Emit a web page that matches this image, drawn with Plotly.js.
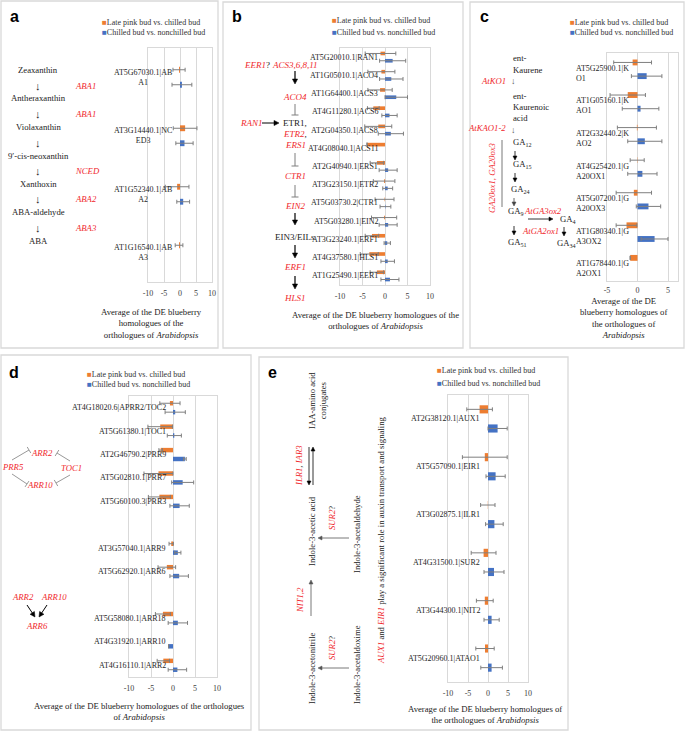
<!DOCTYPE html>
<html><head><meta charset="utf-8">
<script src="https://cdn.plot.ly/plotly-3.0.1.min.js"></script>
<style>html,body{margin:0;padding:0;background:#fff}</style>
</head><body><div id="chart" style="width:685px;height:732px"></div>
<script>
// ---------------- DATA ----------------
const seriesNames = ['Late pink bud vs. chilled bud', 'Chilled bud vs. nonchilled bud'];
const tickVals = [-10, -5, 0, 5, 10];
const tickText = ['-10', '-5', '0', '5', '10'];
const tickValsC = [-5, 0, 5];
const tickTextC = ['-5', '0', '5'];

// panel a
const aGenes = ['AT5G67030.1|AB<br>A1', 'AT3G14440.1|NC<br>ED3', 'AT1G52340.1|AB<br>A2', 'AT1G16540.1|AB<br>A3'];
const aLate = [-0.3, 1.6, -0.9, -0.3];
const aLateErr = [1.9, 3.7, 3.7, 1.2];
const aChill = [0.6, 1.4, 1.0, null];
const aChillErr = [3.1, 2.7, 2.0, null];

// panel b
const bGenes = ['AT5G20010.1|RAN1', 'AT1G05010.1|ACO4', 'AT1G64400.1|ACS3', 'AT4G11280.1|ACS6', 'AT2G04350.1|ACS8', 'AT4G08040.1|ACS11', 'AT2G40940.1|ERS1', 'AT3G23150.1|ETR2', 'AT5G03730.2|CTR1', 'AT5G03280.1|EIN2', 'AT3G23240.1|ERF1', 'AT4G37580.1|HLS1', 'AT1G25490.1|EER1'];
const bLate = [-1.0, -0.8, -1.1, -2.6, -1.5, -4.0, -1.8, -0.2, -0.1, -0.2, -2.9, -3.5, -1.8];
const bLateErr = [3.4, 3.0, 2.7, 1.3, 3.0, 0, 1.5, 2.4, 2.1, 2.8, 1.5, 2.0, 1.5];
const bChill = [1.7, 1.4, 2.5, 1.0, 1.3, null, 0.7, 0.6, 0.1, 0.7, 0.5, 0.6, 1.1];
const bChillErr = [2.9, 2.6, 2.5, 1.7, 2.8, null, 2.0, 1.1, 1.2, 2.0, 0.7, 1.5, 2.0];

// panel c
const cGenes = ['AT5G25900.1|K<br>O1', 'AT1G05160.1|K<br>AO1', 'AT2G32440.2|K<br>AO2', 'AT4G25420.1|G<br>A20OX1', 'AT5G07200.1|G<br>A20OX3', 'AT1G80340.1|G<br>A3OX2', 'AT1G78440.1|G<br>A2OX1'];
const cLate = [-0.8, -1.6, -0.1, -0.05, -0.6, -1.8, -1.2];
const cLateErr = [3.1, 2.9, 3.2, 1.15, 2.9, 1.7, 0];
const cChill = [1.5, 0.5, 1.2, 0.8, 1.8, 2.8, null];
const cChillErr = [2.5, 3.0, 2.8, 2.4, 2.0, 2.2, null];

// panel d (empty strings are empty rows)
const dGenes = ['AT4G18020.6|APRR2/TOC2', 'AT5G61380.1|TOC1', 'AT2G46790.2|PRR9', 'AT5G02810.1|PRR7', 'AT5G60100.3|PRR3', '', 'AT3G57040.1|ARR9', 'AT5G62920.1|ARR6', '', 'AT5G58080.1|ARR18', 'AT4G31920.1|ARR10', 'AT4G16110.1|ARR2'];
const dLate = [-0.7, -2.9, -2.8, -3.3, -3.1, null, -0.4, -1.4, null, -2.3, null, -2.2];
const dLateErr = [2.3, 2.8, 0.4, 3.3, 2.5, null, 0.5, 2.0, null, 1.7, null, 1.4];
const dChill = [0.5, 0.3, 2.7, 2.2, 1.5, null, 1.1, 1.4, null, 1.1, -1.0, 1.0];
const dChillErr = [2.3, 1.6, 0.3, 2.5, 2.2, null, 0.7, 2.1, null, 2.2, 0, 2.1];

// panel e
const eGenes = ['AT2G38120.1|AUX1', 'AT5G57090.1|EIR1', 'AT3G02875.1|ILR1', 'AT4G31500.1|SUR2', 'AT3G44300.1|NIT2', 'AT5G20960.1|ATAO1'];
const eLate = [-2.1, -0.8, -0.05, -1.1, -0.8, -0.75];
const eLateErr = [3.2, 5.6, 1.8, 3.1, 2.1, 2.3];
const eChill = [2.4, 1.9, 1.6, 1.5, 0.9, 0.9];
const eChillErr = [2.4, 2.4, 2.2, 2.5, 1.9, 2.7];

// ---------------- HELPERS ----------------
const W = 685, H = 732;
const SERIF = '"Liberation Serif", "Times New Roman", serif';
const SANS = '"Liberation Sans", Arial, sans-serif';
const ORANGE = '#ED7D31', BLUE = '#4472C4', RED = '#f0282d', GRID = '#d9d9d9';
const X = p => p / W;
const Y = p => 1 - p / H;
const sfx = s => (s === 1 ? '' : String(s));
const red = t => '<span style="color:' + RED + '"><i>' + t + '</i></span>';

const traces = [];
function addBars(s, vals, errs, color, center, width) {
  traces.push({
    type: 'bar', orientation: 'h', x: vals, y: vals.map((_, i) => i),
    xaxis: 'x' + sfx(s), yaxis: 'y' + sfx(s), width: width, offset: center - width / 2,
    marker: {color: color, line: {width: 0}},
    error_x: {type: 'data', array: errs, visible: true, color: '#7f7f7f', thickness: 1, width: 2},
    showlegend: false, hoverinfo: 'skip'
  });
}
function addPanel(s, late, lateErr, chill, chillErr, sep, width) {
  addBars(s, late, lateErr, ORANGE, -sep, width);
  addBars(s, chill, chillErr, BLUE, sep, width);
}
addPanel(1, aLate, aLateErr, aChill, aChillErr, 0.128, 0.1);
addPanel(2, bLate, bLateErr, bChill, bChillErr, 0.2, 0.2);
addPanel(3, cLate, cLateErr, cChill, cChillErr, 0.21, 0.18);
addPanel(4, dLate, dLateErr, dChill, dChillErr, 0.19, 0.19);
addPanel(5, eLate, eLateErr, eChill, eChillErr, 0.2, 0.17);

const layout = {
  width: W, height: H, margin: {l: 0, r: 0, t: 0, b: 0},
  paper_bgcolor: '#fff', plot_bgcolor: '#fff', showlegend: false, barmode: 'overlay',
  annotations: [], shapes: []
};
function axes(s, l, r, t, b, range, tv, tt, n, tl) {
  layout['xaxis' + sfx(s)] = {
    domain: [X(l), X(r)], range: range, tickvals: tv, ticktext: tt, anchor: 'y' + sfx(s),
    showgrid: true, gridcolor: GRID, gridwidth: 1, zeroline: true, zerolinecolor: GRID, zerolinewidth: 1,
    showline: true, mirror: true, linecolor: GRID, linewidth: 1,
    ticks: 'outside', ticklen: tl === undefined ? 3 : tl, tickcolor: 'rgba(0,0,0,0)',
    tickfont: {family: SERIF, size: 8, color: '#404040'}, fixedrange: true
  };
  layout['yaxis' + sfx(s)] = {
    domain: [Y(b), Y(t)], range: [n - 0.5, -0.5], anchor: 'x' + sfx(s),
    showticklabels: false, showgrid: false, zeroline: false, ticks: '',
    showline: true, mirror: true, linecolor: GRID, linewidth: 1, fixedrange: true
  };
}
axes(1, 148, 212, 48, 282, [-10, 10], tickVals, tickText, aGenes.length);
axes(2, 340, 430, 48, 285, [-10, 10], tickVals, tickText, bGenes.length);
axes(3, 607, 678, 53, 281, [-5, 6.64], tickValsC, tickTextC, cGenes.length, 1);
axes(4, 129, 217, 396, 677, [-10, 10], tickVals, tickText, dGenes.length);
axes(5, 448, 528, 395, 682, [-10, 10], tickVals, tickText, eGenes.length);

const A = layout.annotations, S = layout.shapes;
function geneLabels(s, genes, xshift, align, yshift) {
  genes.forEach((g, i) => {
    if (!g) return;
    A.push({xref: 'x' + sfx(s), yref: 'y' + sfx(s), x: 0, y: i, text: g, showarrow: false,
      xanchor: 'right', yanchor: 'middle', xshift: xshift, yshift: yshift || 0, align: align,
      font: {family: SERIF, size: 8, color: '#262626'}});
  });
}
geneLabels(1, aGenes, -6, 'center');
geneLabels(2, bGenes, -5, 'center');
geneLabels(3, cGenes, -7, 'left', -4);
geneLabels(4, dGenes, -5, 'center');
geneLabels(5, eGenes, -6, 'center');

function txt(x, y, text, o) {
  o = o || {};
  A.push({xref: 'paper', yref: 'paper', x: X(x), y: Y(y), text: text, showarrow: false,
    xanchor: o.xa || 'center', yanchor: 'middle', align: o.align || 'center',
    textangle: o.angle || 0,
    font: {family: o.family || SERIF, size: o.size || 8.7, color: o.color || '#222'}});
}
function line(x1, y1, x2, y2, color, w) {
  S.push({type: 'line', xref: 'paper', yref: 'paper', x0: X(x1), y0: Y(y1), x1: X(x2), y1: Y(y2),
    line: {color: color || '#7f7f7f', width: w || 1}});
}
// arrow drawn as a line plus a filled triangular head (shapes, paper coords)
function arrow(x1, y1, x2, y2, o) {
  o = o || {};
  const color = o.color || '#000', hl = o.hl || 5, hw = o.hw || 2.6;
  const dx = x2 - x1, dy = y2 - y1, L = Math.hypot(dx, dy), ux = dx / L, uy = dy / L;
  const bx = x2 - ux * hl, by = y2 - uy * hl;
  line(x1, y1, bx + ux, by + uy, color, o.w || 1);
  const p = [[x2, y2], [bx - uy * hw, by + ux * hw], [bx + uy * hw, by - ux * hw]];
  S.push({type: 'path', xref: 'paper', yref: 'paper',
    path: 'M' + p.map(q => X(q[0]) + ',' + Y(q[1])).join('L') + 'Z',
    fillcolor: color, line: {color: color, width: 0.5}});
}
function tbar(x1, y1, x2, y2, color) {
  line(x1, y1, x2, y2, color);
  const dx = x2 - x1, dy = y2 - y1, L = Math.hypot(dx, dy), k = 3.5 / L;
  line(x2 - dy * k, y2 + dx * k, x2 + dy * k, y2 - dx * k, color);
}
function legend(x, y1, y2) {
  txt(x, y1, '<span style="color:' + ORANGE + '">■</span>' + seriesNames[0], {xa: 'left', size: 8, color: '#333'});
  txt(x, y2, '<span style="color:' + BLUE + '">■</span>' + seriesNames[1], {xa: 'left', size: 8, color: '#333'});
}
function box(x0, y0, x1, y1) {
  S.push({type: 'rect', xref: 'paper', yref: 'paper', x0: X(x0), y0: Y(y0), x1: X(x1), y1: Y(y1),
    line: {color: GRID, width: 1.3}, fillcolor: 'rgba(0,0,0,0)', layer: 'below'});
}

// panel boxes
box(1, 1, 218, 348); box(223, 2, 463, 348); box(470, 2, 684, 348);
box(1, 355, 251, 730); box(259, 357, 568, 730);

// panel letters
[['a', 14, 16], ['b', 237, 17], ['c', 484, 17], ['d', 14, 373], ['e', 272, 373]].forEach(p =>
  txt(p[1], p[2], '<b>' + p[0] + '</b>', {family: SANS, size: 16, color: '#000'}));

// legends
legend(100, 22, 32.5); legend(330, 21, 32); legend(568, 23, 32); legend(85, 374, 384); legend(435, 370, 383);

// axis titles
txt(151, 323, 'Average of the DE blueberry<br>homologues of the<br>orthologues of <i>Arabidopsis</i>');
txt(375, 320.5, 'Average of the DE blueberry homologues of the<br>orthologues of <i>Arabidopsis</i>');
txt(623, 318, 'Average of the DE<br>blueberry homologues of<br>the orthologues of<br><i>Arabidopsis</i>');
txt(139, 711, 'Average of the DE blueberry homologues of the orthologues<br>of <i>Arabidopsis</i>');
txt(485, 714, 'Average of the DE blueberry homologues of<br>the orthologues of <i>Arabidopsis</i>');

// ---- panel a pathway ----
[['Zeaxanthin', 70], ['Antheraxanthin', 98], ['Violaxanthin', 127], ['9′-cis-neoxanthin', 156],
 ['Xanthoxin', 184], ['ABA-aldehyde', 212], ['ABA', 241]].forEach(p => txt(38, p[1], p[0]));
[86, 114, 143, 171, 199, 228].forEach(y => txt(38, y, '↓', {size: 11}));
[['ABA1', 86], ['ABA1', 114], ['NCED', 171], ['ABA2', 199], ['ABA3', 228]].forEach(p =>
  txt(73, p[1], red(p[0]), {xa: 'left'}));

// ---- panel b pathway ----
txt(242, 65, red('EER1') + '?', {xa: 'left', size: 9});
txt(295, 65, red('ACS3,6,8,11'), {size: 9});
arrow(295, 71, 295, 84, {w: 1.2});
txt(295, 97, red('ACO4'), {size: 9});
tbar(295, 104, 295, 115);
txt(251, 123, red('RAN1'), {size: 9});
arrow(262, 123, 279, 123, {w: 1});
txt(295, 123, 'ETR1,', {size: 9});
txt(295, 134, red('ETR2') + ',', {size: 9});
txt(295, 145, red('ERS1'), {size: 9});
tbar(295, 153, 295, 166);
txt(295, 176, red('CTR1'), {size: 9});
tbar(295, 185, 295, 197);
txt(295, 206, red('EIN2'), {size: 9});
arrow(295, 213, 295, 225, {w: 1.2});
txt(295, 237, 'EIN3/EILs', {size: 9});
arrow(295, 245, 295, 258, {w: 1.2});
txt(295, 267, red('ERF1'), {size: 9});
arrow(295, 276, 295, 289, {w: 1.2});
txt(295, 298, red('HLS1'), {size: 9});

// ---- panel c pathway ----
txt(511, 58, 'ent-', {xa: 'left'}); txt(511, 70, 'Kaurene', {xa: 'left'});
txt(508, 81, red('AtKO1'), {xa: 'right'}); txt(513, 81, '↓', {size: 9, color: '#555'});
txt(511, 96, 'ent-', {xa: 'left'}); txt(511, 107, 'Kaurenoic', {xa: 'left'}); txt(511, 118, 'acid', {xa: 'left'});
txt(508, 128, red('AtKAO1-2'), {xa: 'right'}); txt(513, 130, '↓', {size: 9, color: '#555'});
line(502, 140, 502, 207, '#555', 0.8);
txt(492, 178, red('GA20ox1, GA20ox3'), {angle: -90});
txt(511, 143, 'GA<sub>12</sub>', {xa: 'left'});
arrow(515, 151, 515, 160, {w: 0.8, hl: 4, hw: 2});
txt(511, 165, 'GA<sub>15</sub>', {xa: 'left'});
arrow(515, 173, 515, 182, {w: 0.8, hl: 4, hw: 2});
txt(509, 189, 'GA<sub>24</sub>', {xa: 'left'});
arrow(514, 198, 514, 206, {w: 0.8, hl: 4, hw: 2, color: '#444'});
txt(506, 211, 'GA<sub>9</sub>', {xa: 'left'});
txt(522, 211, red('AtGA3ox2'), {xa: 'left'});
arrow(528, 219, 553, 219, {w: 0.8, hl: 4, hw: 2});
txt(558, 219, 'GA<sub>4</sub>', {xa: 'left'});
arrow(514, 226, 514, 235, {w: 0.8, hl: 4, hw: 2});
txt(520, 231, red('AtGA2ox1'), {xa: 'left'});
txt(506, 242, 'GA<sub>51</sub>', {xa: 'left'});
arrow(564, 227, 564, 236, {w: 0.8, hl: 4, hw: 2});
txt(555, 244, 'GA<sub>34</sub>', {xa: 'left'});

// ---- panel d pathway ----
txt(42, 453, red('ARR2')); txt(13, 467, red('PRR5')); txt(71, 468, red('TOC1')); txt(40, 485, red('ARR10'));
tbar(12, 460, 29, 450, '#999'); tbar(70, 461, 57, 453, '#999');
tbar(12, 474, 27, 484, '#999'); tbar(70, 475, 56, 483, '#999');
txt(23, 597, red('ARR2')); txt(54, 597, red('ARR10')); txt(37, 626, red('ARR6'));
arrow(27, 605, 35, 617, {w: 1}); arrow(47, 605, 39, 617, {w: 1});

// ---- panel e pathway ----
txt(317, 401, 'IAA-amino acid<br>conjugates', {angle: -90});
txt(299, 466, red('ILR1') + ', ' + red('IAR3'), {angle: -90});
arrow(313, 485, 313, 447, {w: 0.8, hl: 4, hw: 2});
arrow(309, 447, 309, 485, {w: 0.8, hl: 4, hw: 2});
txt(312, 531, 'Indole-3-acetic acid', {angle: -90});
txt(332, 518, red('SUR2') + '?', {angle: -90});
txt(357, 534, 'Indole-3-acetaldehyde', {angle: -90});
arrow(349, 538, 318, 538, {w: 0.8, hl: 4, hw: 2, color: '#555'});
txt(300, 600, red('NIT1,2'), {angle: -90});
arrow(311, 616, 311, 580, {w: 0.8, hl: 4, hw: 2, color: '#555'});
txt(312, 668, 'Indole-3-acetonitrile', {angle: -90});
txt(332, 648, red('SUR2') + '?', {angle: -90});
txt(357, 665, 'Indole-3-acetaldoxime', {angle: -90});
arrow(349, 668, 318, 668, {w: 0.8, hl: 4, hw: 2, color: '#555'});
txt(381, 540, red('AUX1') + ' and ' + red('EIR1') + ' play a significant role in auxin transport and signaling', {angle: -90});

Plotly.newPlot('chart', traces, layout, {staticPlot: true, displayModeBar: false});
</script></body></html>
